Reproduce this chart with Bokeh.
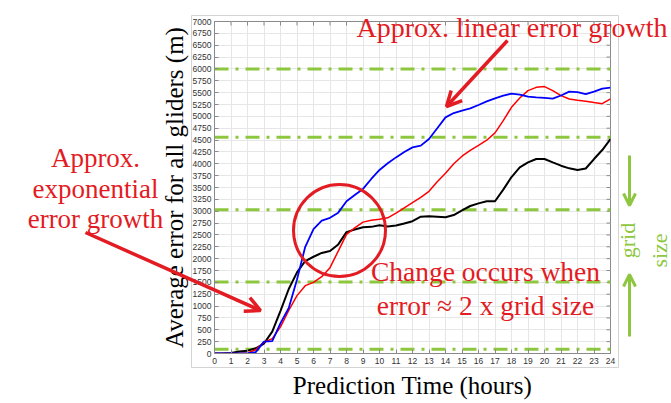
import math
from bokeh.plotting import figure
from bokeh.layouts import column
from bokeh.models import Range1d, FixedTicker, Label, Arrow, OpenHead
from bokeh.embed import file_html
from bokeh.resources import INLINE

# ---------------- data ----------------
hours = [0, 0.5, 1, 1.5, 2, 2.5, 3, 3.5, 4, 4.5, 5, 5.5, 6, 6.5, 7, 7.5, 8, 8.5, 9, 9.5,
         10, 10.5, 11, 11.5, 12, 12.5, 13, 13.5, 14, 14.5, 15, 15.5, 16, 16.5, 17, 17.5,
         18, 18.5, 19, 19.5, 20, 20.5, 21, 21.5, 22, 22.5, 23, 23.5, 24]

blue_err = [0, 0, 0, 0, 0, 30, 250, 260, 640, 960, 1560, 2250, 2620, 2800, 2860, 2970,
            3210, 3340, 3470, 3680, 3870, 4010, 4135, 4250, 4346, 4382, 4523, 4750, 4979,
            5070, 5120, 5169, 5240, 5316, 5380, 5437, 5479, 5460, 5416, 5400, 5388, 5373,
            5440, 5521, 5510, 5470, 5520, 5585, 5606]

red_err = [0, 0, 0, 0, 10, 80, 240, 310, 560, 910, 1220, 1430, 1500, 1620, 1810, 2160,
           2510, 2650, 2770, 2810, 2830, 2860, 2960, 3070, 3180, 3290, 3420, 3620, 3800,
           4000, 4160, 4285, 4390, 4497, 4651, 4909, 5190, 5388, 5542, 5612, 5627, 5542,
           5437, 5367, 5340, 5320, 5290, 5268, 5367]

black_err = [0, 0, 10, 40, 60, 110, 210, 460, 900, 1360, 1710, 1950, 2040, 2120, 2160, 2300,
             2560, 2615, 2660, 2670, 2705, 2680, 2700, 2740, 2790, 2885, 2894, 2885, 2873,
             2920, 3020, 3110, 3165, 3210, 3210, 3455, 3720, 3924, 4030, 4101, 4101, 4030,
             3960, 3904, 3870, 3900, 4100, 4290, 4523]

grid_levels = [90, 1510, 3030, 4560, 6000]

x_ticks = [0, 1, 2, 3, 4, 5, 6, 7, 8, 9, 10, 11, 12, 13, 14, 15, 16, 17, 18, 19, 20, 21, 22, 23, 24]
y_ticks = [0, 250, 500, 750, 1000, 1250, 1500, 1750, 2000, 2250, 2500, 2750, 3000, 3250, 3500,
           3750, 4000, 4250, 4500, 4750, 5000, 5250, 5500, 5750, 6000, 6250, 6500, 6750, 7000]

# ---------------- styling ----------------
RED = "#e31b23"
GREEN = "#8dc73f"
AXIS_GREY = "#8a8a8a"
SERIF = "Liberation Serif"
SANS = "Liberation Sans"
W, H = 671, 403

# ---------------- main chart ----------------
p = figure(width=W, height=H, output_backend="svg", toolbar_location=None,
           x_range=Range1d(0, 24), y_range=Range1d(0, 7000),
           min_border_left=214, min_border_right=61, min_border_top=21, min_border_bottom=50,
           background_fill_color="white", border_fill_color="white")
p.frame_align = False

p.outline_line_color = AXIS_GREY
p.outline_line_width = 1

for ax in (p.xaxis, p.yaxis):
    ax.major_tick_in = 4
    ax.major_tick_out = 0
    ax.minor_tick_in = 0
    ax.minor_tick_out = 0
    ax.axis_line_color = AXIS_GREY
    ax.major_tick_line_color = AXIS_GREY
    ax.major_label_text_font = SANS
    ax.major_label_text_font_size = "8.5px"
    ax.major_label_text_color = "#333333"
    ax.axis_label_text_font = SERIF
    ax.axis_label_text_font_style = "normal"
    ax.axis_label_text_font_size = "25px"
    ax.axis_label_text_color = "black"

p.xaxis.ticker = FixedTicker(ticks=x_ticks)
p.yaxis.ticker = FixedTicker(ticks=y_ticks)
p.xaxis.major_label_standoff = 4
p.yaxis.major_label_standoff = 3
p.xaxis.axis_label = "Prediction Time (hours)"
p.yaxis.axis_label = "Average error for all gliders (m)"
p.xaxis.axis_label_standoff = 5
p.yaxis.axis_label_standoff = 2

p.xgrid.ticker = FixedTicker(ticks=x_ticks)
p.ygrid.ticker = FixedTicker(ticks=y_ticks)
p.xgrid.grid_line_color = "#e6e6e6"
p.ygrid.grid_line_color = "#e6e6e6"

# mirrored inward ticks on the top and right edges of the box
tick_dx = 4 * 24.0 / 396.0
tick_dy = 4 * 7000.0 / 332.0
p.segment(x0=x_ticks, y0=[7000] * len(x_ticks), x1=x_ticks, y1=[7000 - tick_dy] * len(x_ticks),
          line_color=AXIS_GREY, line_width=1)
p.segment(x0=[24] * len(y_ticks), y0=y_ticks, x1=[24 - tick_dx] * len(y_ticks), y1=y_ticks,
          line_color=AXIS_GREY, line_width=1)

# grid-size dash-dot lines
for lvl in grid_levels:
    p.line([0, 24], [lvl, lvl], line_color=GREEN, line_width=3, line_dash="14 7 3 7")

# data series
p.line(hours, black_err, line_color="black", line_width=2)
p.line(hours, red_err, line_color="#ff0000", line_width=1.5)
p.line(hours, blue_err, line_color="#0000ff", line_width=1.8)

# ---------------- transparent overlay for slide annotations (pixel space) ----------------
ov = figure(width=W, height=H, output_backend="svg", toolbar_location=None,
            x_range=Range1d(0, W), y_range=Range1d(H, 0),
            x_axis_location=None, y_axis_location=None,
            min_border=0, min_border_left=0, min_border_right=0,
            min_border_top=0, min_border_bottom=0)
ov.frame_align = False
ov.background_fill_alpha = 0
ov.border_fill_alpha = 0
ov.outline_line_color = None
ov.xgrid.visible = False
ov.ygrid.visible = False
ov.margin = (-H, 0, 0, 0)

# MATLAB figure frame
ov.line([191, 618, 618, 191, 191], [15, 15, 367, 367, 15], line_color="#d4d4d4", line_width=1)

# red circle
ov.scatter([339], [230], marker="circle", size=92, fill_alpha=0, line_color=RED, line_width=3)

def lab(text, x, y, size, color=RED, align="center", baseline="alphabetic", angle=0.0):
    ov.add_layout(Label(x=x, y=y, text=text, text_font=SERIF, text_font_size=f"{size}px",
                        text_color=color, text_align=align, text_baseline=baseline,
                        angle=angle))

lab("Approx. linear error growth", 667, 27, 28, align="right")
lab("Approx.", 95, 157, 27)
lab("exponential", 95, 188, 27)
lab("error growth", 95, 218, 27)
lab("Change occurs when", 485, 271, 27.5)
lab("error \u2248 2 x grid size", 485, 305, 27.5)
lab("grid", 627, 240, 22, color=GREEN, baseline="middle", angle=math.pi / 2)
lab("size", 659, 250, 22, color=GREEN, baseline="middle", angle=math.pi / 2)

def arrow(x0, y0, x1, y1, color, lw, size):
    ov.add_layout(Arrow(end=OpenHead(line_color=color, line_width=lw, size=size),
                        x_start=x0, y_start=y0, x_end=x1, y_end=y1,
                        line_color=color, line_width=lw))

arrow(507, 40, 446, 106, RED, 3.5, 15)
arrow(85, 232, 260, 310, RED, 3.5, 15)
arrow(629, 155, 629, 205, GREEN, 3, 12)
arrow(629, 336, 629, 274, GREEN, 3, 12)

layout = column(p, ov)

open("out.html", "w").write(file_html(layout, INLINE))
